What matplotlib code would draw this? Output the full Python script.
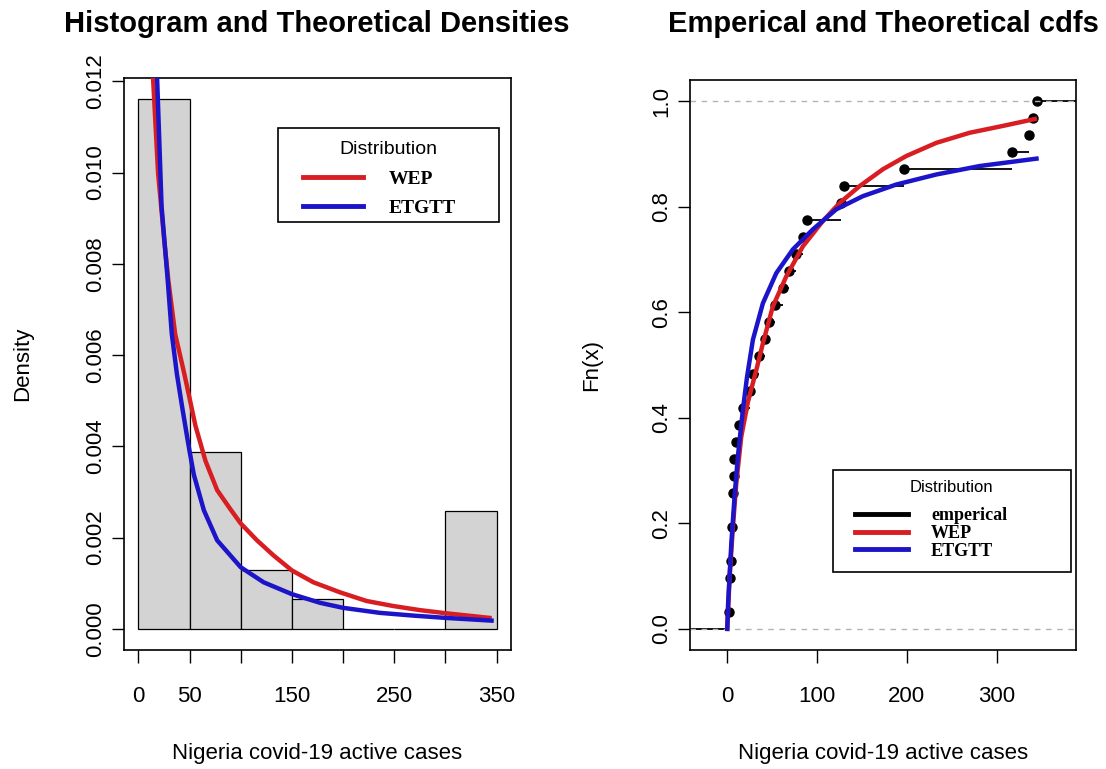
import matplotlib.pyplot as plt
import numpy as np
from matplotlib.lines import Line2D
from matplotlib.patches import Rectangle

# observacoes (31 valores, ordenados)
cases = [2, 3, 3, 4, 5, 5, 6, 6, 7, 8, 10, 13, 17, 25, 29, 35, 42, 47,
         53, 62, 69, 77, 84, 89, 127, 130, 197, 317, 336, 341, 345]
bins = [0, 50, 100, 150, 200, 250, 300, 350]

# densidades teoricas
wep_pdf_x = [14.3, 19.3, 25.3, 29.3, 36, 44.3, 47.7, 55.8, 65.6, 77, 90, 100, 115.9, 132, 150,
             171, 197, 223, 249, 275, 301, 343]
wep_pdf_y = [0.0121, 0.00999, 0.00852, 0.00764, 0.00646, 0.00565, 0.0053, 0.00445, 0.00368, 0.00304,
             0.00262, 0.00231, 0.00194, 0.00161, 0.00128, 0.00102, 0.0008, 0.00061, 0.0005,
             0.00041, 0.00034, 0.00024]
etgtt_pdf_x = [18.3, 22.7, 28.7, 32.7, 37.7, 42.9, 47.7, 50, 54.2, 64, 77, 100, 122.4, 150, 177.6,
               200, 236, 268.5, 300, 345]
etgtt_pdf_y = [0.0121, 0.00926, 0.00764, 0.00646, 0.00558, 0.00485, 0.0042, 0.0039, 0.00338, 0.0026,
               0.00194, 0.00135, 0.00102, 0.00076, 0.00057, 0.00046, 0.00035, 0.00029, 0.00024,
               0.00018]

# cdfs teoricas
wep_cdf_x = [0, 2.6, 6.3, 10, 15.6, 23, 32.3, 39.7, 50.8, 65.8, 84.3, 106.6, 125.2, 147.5, 173.5,
             199.5, 233, 270, 307, 342.6]
wep_cdf_y = [0, 0.098, 0.193, 0.275, 0.364, 0.43, 0.49, 0.541, 0.611, 0.668, 0.725, 0.773, 0.807,
             0.839, 0.871, 0.896, 0.921, 0.94, 0.953, 0.966]
etgtt_cdf_x = [0, 1, 4.5, 8.1, 11.8, 17.4, 22, 28.6, 39.7, 54.6, 73.1, 95.4, 121.5, 151.2, 188.4,
               233, 281.3, 344.5]
etgtt_cdf_y = [0, 0.05, 0.161, 0.25, 0.326, 0.415, 0.477, 0.548, 0.617, 0.674, 0.719, 0.757, 0.795,
               0.82, 0.842, 0.861, 0.877, 0.891]

RED = '#d81e23'
BLUE = '#1c14c8'
plt.rcParams['font.family'] = ['Liberation Sans', 'DejaVu Sans']
FS = 16
serif_bold = {'family': 'Liberation Serif', 'weight': 'bold'}

fig = plt.figure(figsize=(11.06, 7.69), dpi=100)
ax1 = fig.add_axes([124/1106, 1-650/769, 387/1106, 572/769])
ax2 = fig.add_axes([690/1106, 1-650/769, 386/1106, 570/769])

## painel 1: histograma + densidades
ax1.hist(cases, bins=bins, density=True, color='#d3d3d3', edgecolor='black', linewidth=0.9)
ax1.plot(wep_pdf_x, wep_pdf_y, color=RED, lw=3.2, zorder=3)
ax1.plot(etgtt_pdf_x, etgtt_pdf_y, color=BLUE, lw=3.2, zorder=3)
ax1.set_xlim(-14, 364)
ax1.set_ylim(-0.000464, 0.012074)
ax1.set_xticks(bins)
ax1.set_xticklabels(['0', '50', '', '150', '', '250', '', '350'])
ax1.set_yticks(np.arange(0, 0.0121, 0.002))
ax1.set_yticklabels(['%.3f' % v for v in np.arange(0, 0.0121, 0.002)], rotation=90, va='center')
ax1.set_xlabel('Nigeria covid-19 active cases', fontsize=FS, labelpad=26)
ax1.set_ylabel('Density', fontsize=FS, labelpad=37)

# legenda: caixa desenhada a parte (margem maior a esquerda, como no R)
ax1.add_patch(Rectangle((0.398, 0.748), 0.571, 0.165, transform=ax1.transAxes, fill=True,
                        facecolor='white', edgecolor='black', lw=1.2, zorder=4))
h1 = [Line2D([], [], color=RED, lw=3.5), Line2D([], [], color=BLUE, lw=3.5)]
leg1 = ax1.legend(h1, ['WEP', 'ETGTT'], title='Distribution', loc='upper left',
                  bbox_to_anchor=(0.4626, 0.890, 0.442, 0.0), mode='expand',
                  prop=dict(size=14, **serif_bold), title_fontsize=14, frameon=False,
                  borderpad=0, handlelength=3.1, handletextpad=1.29, labelspacing=0.56,
                  borderaxespad=0)
leg1._legend_box.sep = 9

## painel 2: ecdf + cdfs teoricas
xs = np.array(cases)
ux = np.unique(xs)
fn = np.array([np.sum(xs <= v) for v in ux]) / len(xs)
xlo, xhi = -41.5, 388.5
ax2.hlines(fn[:-1], ux[:-1], ux[1:], color='black', lw=1.3, zorder=2)
ax2.hlines([0, 1], [xlo, ux[-1]], [ux[0], xhi], color='black', lw=1.3, zorder=2)
ax2.plot(ux, fn, 'o', color='black', ms=6.5, zorder=2)
ax2.axhline(0, color='#b3b3b3', ls=(0, (4, 4)), lw=1, zorder=2.5)
ax2.axhline(1, color='#b3b3b3', ls=(0, (4, 4)), lw=1, zorder=2.5)
ax2.plot(wep_cdf_x, wep_cdf_y, color=RED, lw=3.2, zorder=3)
ax2.plot(etgtt_cdf_x, etgtt_cdf_y, color=BLUE, lw=3.2, zorder=3)
ax2.set_xlim(xlo, xhi)
ax2.set_ylim(-0.04, 1.04)
ax2.set_xticks([0, 100, 200, 300])
ax2.set_yticks(np.arange(0, 1.01, 0.2))
ax2.set_yticklabels(['%.1f' % v for v in np.arange(0, 1.01, 0.2)], rotation=90, va='center')
ax2.set_xlabel('Nigeria covid-19 active cases', fontsize=FS, labelpad=26)
ax2.set_ylabel('Fn(x)', fontsize=FS, labelpad=35)

ax2.add_patch(Rectangle((0.37, 0.137), 0.617, 0.179, transform=ax2.transAxes, fill=True,
                        facecolor='white', edgecolor='black', lw=1.2, zorder=4))
h2 = [Line2D([], [], color='black', lw=3.5), Line2D([], [], color=RED, lw=3.5),
      Line2D([], [], color=BLUE, lw=3.5)]
leg2 = ax2.legend(h2, ['emperical', 'WEP', 'ETGTT'], title='Distribution', loc='upper left',
                  bbox_to_anchor=(0.427, 0.298, 0.503, 0.0), mode='expand',
                  prop=dict(size=13, **serif_bold), title_fontsize=12, frameon=False,
                  borderpad=0, handlelength=2.94, handletextpad=1.28, labelspacing=0.05,
                  borderaxespad=0)
leg2._legend_box.sep = 8.5

for ax in (ax1, ax2):
    ax.tick_params(direction='out', length=9, width=1, labelsize=FS, pad=17)
    ax.tick_params(axis='y', pad=4)
    for s in ax.spines.values():
        s.set_linewidth(1.2)

fig.text(317/1106, 1-24/769, 'Histogram and Theoretical Densities', fontsize=21,
         fontweight='bold', ha='center', va='center')
fig.text(883/1106, 1-24/769, 'Emperical and Theoretical cdfs', fontsize=21,
         fontweight='bold', ha='center', va='center')

plt.savefig('out.png')
